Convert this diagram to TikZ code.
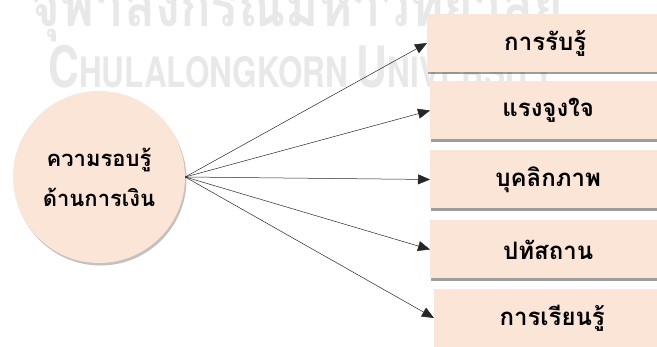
\documentclass[tikz,border=0pt]{standalone}
\usepackage{fontspec}
\newfontfamily\thaifont[Script=Thai]{Loma}
\setsansfont{TeX Gyre Heros}
\usetikzlibrary{arrows.meta,shadows}
\definecolor{peach}{HTML}{FBE5D6}
\definecolor{mark}{HTML}{E8E8E8}
\tikzset{factor/.style={rectangle, fill=peach, anchor=west, minimum width=236pt, minimum height=58pt,
  font=\thaifont\bfseries\fontsize{24}{28}\selectfont,
  drop shadow={shadow xshift=1pt, shadow yshift=-2.5pt, fill=black!70, opacity=0.55}}}
\tikzset{arr/.style={-{Triangle[length=12pt,width=10pt]}, line width=0.5pt, black!85}}

\begin{document}
\begin{tikzpicture}[x=1pt,y=-1pt]
      \useasboundingbox (0,0) rectangle (657,347);
      % faint mark behind the figure
      \node [anchor=base, text=mark, xscale=0.85, inner sep=0pt, font=\thaifont\bfseries\fontsize{60}{62}\selectfont] (markth) at (297,27) {จุฬาลงกรณ์มหาวิทยาลัย};
      \node [anchor=base west, text=mark, xscale=0.75, inner sep=0pt, font=\sffamily\bfseries\fontsize{57}{60}\selectfont] (marken) at (48,88) {C\fontsize{42}{44}\selectfont HULALONGKORN \fontsize{57}{60}\selectfont U\fontsize{42}{44}\selectfont NIVERSITY};

      \node [circle, fill=peach, minimum size=172pt, align=center, font=\thaifont\bfseries\fontsize{22}{40}\selectfont,
        drop shadow={shadow xshift=1.5pt, shadow yshift=-2.5pt, fill=black!60, opacity=0.4}] (lit) at (99,177) {ความรอบรู้\\ด้านการเงิน};

      \node [factor] (perc) at (427,43) {การรับรู้};
      \node [factor] (moti) at (430,110.5) {แรงจูงใจ};
      \node [factor] (pers) at (430,179.5) {บุคลิกภาพ};
      \node [factor] (atti) at (430,249.5) {ปทัสถาน};
      \node [factor] (lear) at (434,318) {การเรียนรู้};

      \foreach \f in {perc,moti,pers,atti,lear}
        \draw [arr] (lit.east) -- (\f.west);
    \end{tikzpicture}
\end{document}
